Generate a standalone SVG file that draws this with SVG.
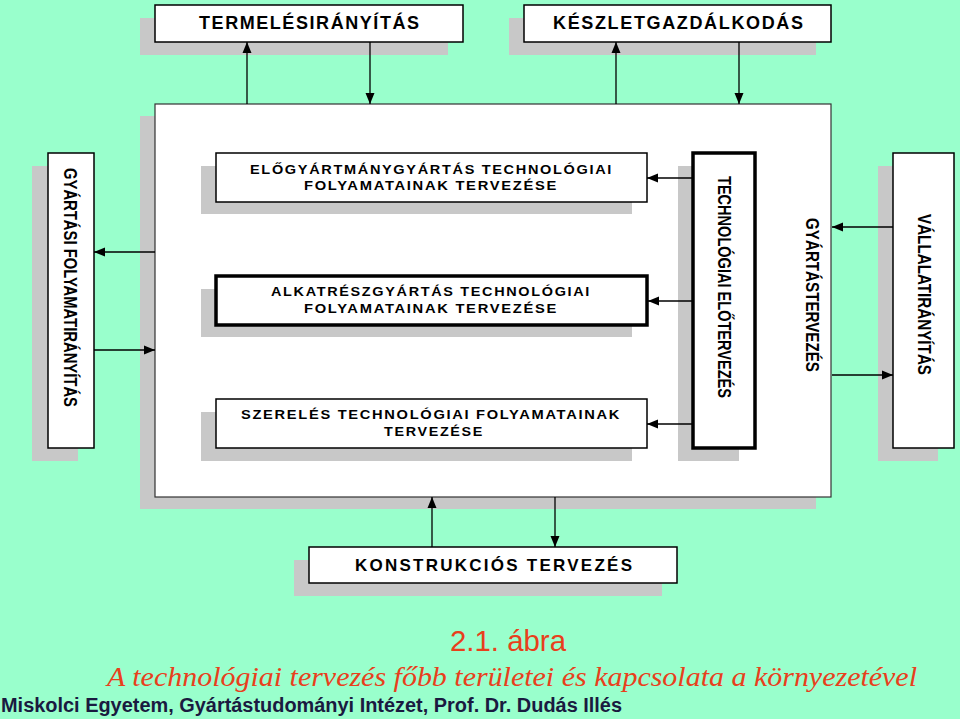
<svg xmlns="http://www.w3.org/2000/svg" width="960" height="719" viewBox="0 0 960 719">
<style>
.sh{fill:#c8c8c8;stroke:none}
.bx{fill:#ffffff;stroke:#000;stroke-width:1.5}
.thick{fill:#ffffff;stroke:#000;stroke-width:3.5}
.t{font-family:"Liberation Sans",Arial,sans-serif;font-weight:bold;fill:#000}
.big{font-size:18px}
.vt{font-size:19px}
.sm{font-size:13px;letter-spacing:1.5px}
.c{stroke:#000;stroke-width:1.3;fill:none;marker-end:url(#ah)}
</style>
<defs>
<marker id="ah" markerUnits="userSpaceOnUse" markerWidth="12" markerHeight="10" refX="11" refY="5" orient="auto">
<path d="M0,0.5 L11,5 L0,9.5 z" fill="#000"/>
</marker>
</defs>
<rect width="960" height="719" fill="#99ffcc"/>

<g id="termelesiranyitas">
<rect class="sh" x="140" y="18" width="308" height="37"/>
<rect class="bx" x="155" y="5" width="308" height="37"/>
<text class="t big" x="199" y="29" textLength="220" lengthAdjust="spacing">TERMELÉSIRÁNYÍTÁS</text>
</g>

<g id="keszletgazdalkodas">
<rect class="sh" x="509" y="18" width="307" height="37"/>
<rect class="bx" x="524" y="5" width="307" height="37"/>
<text class="t big" x="553" y="29" textLength="250" lengthAdjust="spacing">KÉSZLETGAZDÁLKODÁS</text>
</g>

<g id="main">
<rect class="sh" x="140" y="116" width="676" height="393"/>
<rect fill="#fff" stroke="#333" stroke-width="1.2" x="155" y="104" width="676" height="393"/>
</g>

<g id="gyartasi-folyamatiranyitas">
<rect class="sh" x="32" y="166" width="46" height="295"/>
<rect class="bx" x="48" y="153" width="46" height="295"/>
<text class="t vt" transform="translate(64,168) rotate(90)" x="0" y="0" textLength="239" lengthAdjust="spacingAndGlyphs">GYÁRTÁSI FOLYAMATIRÁNYÍTÁS</text>
</g>

<g id="elogyartmany">
<rect class="sh" x="201" y="166" width="431" height="48"/>
<rect class="bx" x="216" y="153" width="431" height="49"/>
<text class="t sm" x="250" y="174" textLength="363" lengthAdjust="spacingAndGlyphs">ELŐGYÁRTMÁNYGYÁRTÁS TECHNOLÓGIAI</text>
<text class="t sm" x="304" y="190" textLength="254" lengthAdjust="spacingAndGlyphs">FOLYAMATAINAK TERVEZÉSE</text>
</g>

<g id="alkatresz">
<rect class="sh" x="201" y="289" width="431" height="48"/>
<rect class="thick" x="216" y="276" width="431" height="49"/>
<text class="t sm" x="271" y="296" textLength="320" lengthAdjust="spacingAndGlyphs">ALKATRÉSZGYÁRTÁS TECHNOLÓGIAI</text>
<text class="t sm" x="304" y="313" textLength="254" lengthAdjust="spacingAndGlyphs">FOLYAMATAINAK TERVEZÉSE</text>
</g>

<g id="szereles">
<rect class="sh" x="201" y="412" width="431" height="49"/>
<rect class="bx" x="216" y="399" width="431" height="49"/>
<text class="t sm" x="241" y="419" textLength="380" lengthAdjust="spacingAndGlyphs">SZERELÉS TECHNOLÓGIAI FOLYAMATAINAK</text>
<text class="t sm" x="384" y="436" textLength="100" lengthAdjust="spacingAndGlyphs">TERVEZÉSE</text>
</g>

<g id="technologiai-eloterv">
<rect class="sh" x="678" y="166" width="61" height="295"/>
<rect class="thick" x="693" y="153" width="62" height="295"/>
<text class="t vt" transform="translate(718,176) rotate(90)" x="0" y="0" textLength="222" lengthAdjust="spacingAndGlyphs">TECHNOLÓGIAI ELŐTERVEZÉS</text>
</g>

<g id="gyartastervezes">
<text class="t vt" transform="translate(806,218) rotate(90)" x="0" y="0" textLength="154" lengthAdjust="spacingAndGlyphs">GYÁRTÁSTERVEZÉS</text>
</g>

<g id="vallalatiranyitas">
<rect class="sh" x="878" y="166" width="60" height="295"/>
<rect class="bx" x="893" y="153" width="61" height="295"/>
<text class="t vt" transform="translate(918,214) rotate(90)" x="0" y="0" textLength="161" lengthAdjust="spacingAndGlyphs">VÁLLALATIRÁNYÍTÁS</text>
</g>

<g id="konstrukcios">
<rect class="sh" x="294" y="560" width="368" height="36"/>
<rect class="bx" x="309" y="547" width="368" height="36"/>
<text class="t" font-size="17" x="355" y="571" textLength="277" lengthAdjust="spacing">KONSTRUKCIÓS TERVEZÉS</text>
</g>

<g id="connectors">
<line class="c" x1="247" y1="104" x2="247" y2="42"/>
<line class="c" x1="370" y1="42" x2="370" y2="104"/>
<line class="c" x1="616" y1="104" x2="616" y2="42"/>
<line class="c" x1="739" y1="42" x2="739" y2="104"/>
<line class="c" x1="155" y1="252" x2="94" y2="252"/>
<line class="c" x1="94" y1="350" x2="155" y2="350"/>
<line class="c" x1="693" y1="178" x2="647" y2="178"/>
<line class="c" x1="693" y1="301" x2="648" y2="301"/>
<line class="c" x1="693" y1="424" x2="647" y2="424"/>
<line class="c" x1="893" y1="227" x2="832" y2="227"/>
<line class="c" x1="832" y1="375" x2="893" y2="375"/>
<line class="c" x1="432" y1="547" x2="432" y2="497"/>
<line class="c" x1="555" y1="497" x2="555" y2="547"/>
</g>

<g id="caption">
<text x="450" y="651" font-family="'Liberation Sans',Arial,sans-serif" font-size="30" fill="#e8401c" textLength="116" lengthAdjust="spacingAndGlyphs">2.1. ábra</text>
<text x="107" y="686" font-family="'Liberation Serif','Times New Roman',serif" font-style="italic" font-size="28" fill="#e8401c" textLength="810" lengthAdjust="spacingAndGlyphs">A technológiai tervezés főbb területei és kapcsolata a környezetével</text>
<text x="1" y="712" font-family="'Liberation Sans',Arial,sans-serif" font-weight="bold" font-size="20" fill="#1a1a40" textLength="621" lengthAdjust="spacingAndGlyphs">Miskolci Egyetem, Gyártástudományi Intézet, Prof. Dr. Dudás Illés</text>
</g>
</svg>
